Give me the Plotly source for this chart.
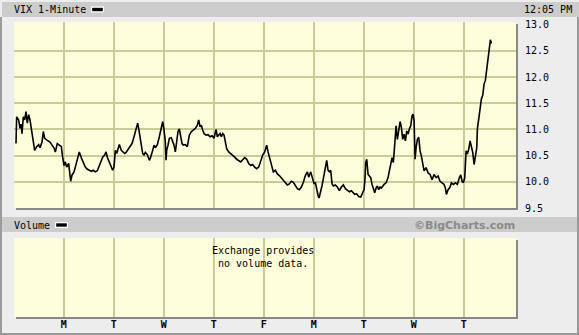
import plotly.graph_objects as go

# ---------------- data ----------------
# x = trading-session position (0 = Monday of the first full week)
day_pos = [
    -0.953, -0.94, -0.90, -0.873, -0.853, -0.833, -0.807, -0.78, -0.753, -0.727,
    -0.70, -0.673, -0.647, -0.62, -0.593, -0.58, -0.54, -0.50, -0.473, -0.433,
    -0.407, -0.38, -0.327, -0.273, -0.233, -0.193, -0.167, -0.127, -0.087, -0.047,
    -0.02, 0.007, 0.033, 0.06, 0.10, 0.127, 0.14, 0.167, 0.207, 0.233,
    0.273, 0.313, 0.353, 0.393, 0.433, 0.473, 0.513, 0.553, 0.593, 0.633,
    0.673, 0.713, 0.753, 0.78, 0.82, 0.847, 0.873, 0.913, 0.953, 0.98,
    1.007, 1.033, 1.06, 1.087, 1.113, 1.153, 1.193, 1.22, 1.247, 1.287,
    1.327, 1.367, 1.407, 1.433, 1.46, 1.48, 1.50, 1.527, 1.553, 1.58,
    1.607, 1.633, 1.673, 1.713, 1.74, 1.78, 1.807, 1.833, 1.873, 1.913,
    1.953, 1.98, 2.007, 2.033, 2.047, 2.06, 2.087, 2.113, 2.153, 2.18,
    2.207, 2.233, 2.26, 2.287, 2.313, 2.34, 2.367, 2.393, 2.433, 2.473,
    2.513, 2.553, 2.593, 2.633, 2.673, 2.70, 2.727, 2.753, 2.78, 2.807,
    2.847, 2.887, 2.927, 2.967, 3.007, 3.033, 3.047, 3.073, 3.10, 3.127,
    3.153, 3.18, 3.207, 3.233, 3.26, 3.30, 3.34, 3.38, 3.42, 3.46,
    3.50, 3.54, 3.58, 3.62, 3.66, 3.70, 3.74, 3.78, 3.82, 3.86,
    3.90, 3.94, 3.98, 4.02, 4.06, 4.087, 4.113, 4.14, 4.167, 4.193,
    4.233, 4.273, 4.313, 4.353, 4.393, 4.433, 4.473, 4.513, 4.553, 4.593,
    4.633, 4.673, 4.713, 4.753, 4.793, 4.833, 4.873, 4.90, 4.94, 4.98,
    5.007, 5.033, 5.06, 5.087, 5.107, 5.14, 5.167, 5.193, 5.22, 5.247,
    5.26, 5.287, 5.313, 5.34, 5.367, 5.393, 5.433, 5.473, 5.513, 5.553,
    5.593, 5.633, 5.673, 5.713, 5.753, 5.793, 5.82, 5.86, 5.90, 5.94,
    5.98, 6.007, 6.027, 6.04, 6.06, 6.087, 6.113, 6.14, 6.167, 6.193,
    6.22, 6.247, 6.273, 6.30, 6.327, 6.353, 6.38, 6.407, 6.447, 6.487,
    6.513, 6.54, 6.567, 6.593, 6.62, 6.647, 6.673, 6.70, 6.727, 6.753,
    6.78, 6.807, 6.833, 6.86, 6.887, 6.913, 6.94, 6.967, 6.987, 7.007,
    7.027, 7.047, 7.073, 7.10, 7.127, 7.153, 7.18, 7.207, 7.247, 7.287,
    7.327, 7.367, 7.407, 7.447, 7.487, 7.527, 7.567, 7.607, 7.633, 7.653,
    7.687, 7.727, 7.753, 7.793, 7.833, 7.873, 7.913, 7.94, 7.967, 7.993,
    8.02, 8.033, 8.047, 8.073, 8.10, 8.127, 8.153, 8.18, 8.207, 8.233,
    8.26, 8.273, 8.30, 8.327, 8.353, 8.38, 8.407, 8.433, 8.46, 8.487,
    8.513, 8.533, 8.553,
]
vix = [
    10.73, 11.24, 11.18, 11.02, 11.10, 10.92, 11.24, 11.18, 11.34, 11.12,
    11.28, 11.18, 11.02, 10.86, 10.76, 10.60, 10.67, 10.71, 10.65, 10.76,
    10.96, 10.83, 10.79, 10.76, 10.70, 10.65, 10.57, 10.73, 10.70, 10.67,
    10.47, 10.31, 10.38, 10.28, 10.35, 10.12, 10.01, 10.13, 10.19, 10.28,
    10.44, 10.57, 10.46, 10.35, 10.28, 10.24, 10.22, 10.20, 10.22, 10.19,
    10.21, 10.31, 10.38, 10.47, 10.51, 10.57, 10.47, 10.38, 10.26, 10.22,
    10.28, 10.60, 10.54, 10.63, 10.71, 10.60, 10.57, 10.54, 10.56, 10.62,
    10.67, 10.73, 10.86, 10.96, 11.02, 11.12, 11.02, 10.89, 10.70, 10.54,
    10.51, 10.56, 10.52, 10.41, 10.47, 10.60, 10.70, 10.65, 10.71, 10.86,
    11.02, 11.15, 10.99, 10.76, 10.41, 10.60, 10.70, 10.83, 10.84, 10.78,
    10.70, 10.57, 10.83, 10.96, 11.01, 10.83, 10.73, 10.70, 10.71, 10.67,
    10.89, 10.96, 10.99, 11.02, 11.08, 11.18, 11.05, 11.08, 10.99, 10.92,
    10.89, 10.90, 10.86, 10.88, 10.83, 10.96, 11.00, 10.86, 10.89, 10.92,
    10.86, 10.92, 10.89, 10.73, 10.63, 10.57, 10.54, 10.51, 10.47, 10.43,
    10.41, 10.38, 10.42, 10.46, 10.43, 10.35, 10.31, 10.33, 10.28, 10.25,
    10.28, 10.41, 10.51, 10.57, 10.70, 10.57, 10.44, 10.38, 10.28, 10.19,
    10.22, 10.15, 10.12, 10.07, 10.03, 9.98, 9.94, 9.96, 10.01, 9.99,
    9.92, 9.87, 9.85, 9.90, 9.99, 10.12, 10.19, 10.09, 10.19, 10.03,
    9.96, 9.99, 9.83, 9.74, 9.69, 9.80, 9.93, 10.06, 10.19, 10.31,
    10.41, 10.22, 10.19, 10.22, 9.96, 9.92, 9.94, 9.90, 9.83, 9.90,
    9.94, 9.87, 9.83, 9.81, 9.83, 9.79, 9.76, 9.77, 9.72, 9.71,
    9.79, 9.85, 10.08, 10.37, 10.43, 10.14, 10.11, 10.08, 9.95, 9.88,
    9.79, 9.88, 9.92, 9.85, 9.90, 9.88, 9.92, 9.95, 9.98, 10.08,
    10.21, 10.33, 10.46, 10.37, 10.72, 11.07, 10.81, 10.97, 11.15, 11.04,
    10.81, 10.91, 10.78, 10.97, 10.91, 11.01, 11.07, 11.26, 11.29, 11.17,
    10.43, 10.65, 10.81, 10.85, 10.59, 10.49, 10.30, 10.21, 10.27, 10.17,
    10.14, 10.04, 10.14, 10.08, 10.11, 10.01, 9.98, 9.95, 9.88, 9.76,
    9.85, 9.90, 9.98, 9.95, 9.98, 9.95, 10.08, 10.13, 10.01, 9.98,
    10.08, 10.37, 10.59, 10.53, 10.62, 10.78, 10.65, 10.56, 10.33, 10.46,
    10.65, 11.01, 11.20, 11.46, 11.58, 11.65, 11.87, 11.94, 12.13, 12.29,
    12.51, 12.71, 12.64,
]
day_ticks = [0, 1, 2, 3, 4, 5, 6, 7, 8]
day_labels = ["M", "T", "W", "T", "F", "M", "T", "W", "T"]
price_ticks = [9.5, 10.0, 10.5, 11.0, 11.5, 12.0, 12.5, 13.0]
price_grid = [10.0, 10.5, 11.0, 11.5, 12.0, 12.5]
title_text = "VIX 1-Minute"
time_text = "12:05 PM"
volume_title = "Volume"
credit_text = "©BigCharts.com"
no_volume_text = "Exchange provides<br>no volume data."

# ---------------- layout helpers (pixel -> paper) ----------------
W, H = 579, 335
L, R, T, B = 14, 516, 22, 317
def px(x):
    return (x - L) / (R - L)
def py(y):
    return (B - y) / (B - T)

MONO = "DejaVu Sans Mono"
BG = "#ededed"
PANEL = "#fdfddb"
GRID = "#cbcb96"
BAR = "#cccccc"

fig = go.Figure()
fig.add_trace(go.Scatter(x=day_pos, y=vix, mode="lines",
                         line=dict(color="#000000", width=1.6),
                         xaxis="x", yaxis="y", hoverinfo="skip", showlegend=False))
fig.add_trace(go.Scatter(x=[], y=[], xaxis="x2", yaxis="y2", showlegend=False))
fig.add_trace(go.Scatter(x=[], y=[], xaxis="x", yaxis="y3", showlegend=False))

xr = [-0.993, 9.045]
yr = [9.5, 13.05]
main_dom = [py(208), 1.0]
vol_dom = [0.0, py(238)]

shapes = []
def rect(x0, y0, x1, y1, color, layer="below"):
    shapes.append(dict(type="rect", xref="paper", yref="paper",
                       x0=px(x0), x1=px(x1), y0=py(y1), y1=py(y0),
                       fillcolor=color, line=dict(width=0), layer=layer))

# header bars
rect(2, 2, 579, 17, BAR)
rect(2, 217, 579, 232, BAR)
# frame lines
rect(0, 17, 2, 335, "#9a9a9a")
rect(0, 333, 579, 335, "#9a9a9a")
rect(577, 17, 579, 335, "#9a9a9a")
# panel shadows
rect(16, 208, 518, 210, "#888888")
rect(516, 24, 518, 210, "#888888")
rect(16, 317, 518, 319, "#888888")
rect(516, 240, 518, 319, "#888888")
# legend dashes
for (x0, y0, x1, y1) in [(91, 6.5, 104, 12.5), (55, 222, 68, 228)]:
    rect(x0, y0, x1, y1, "#ffffff", "above")
    rect(x0 + 1.2, y0 + 1.3, x1 - 1.2, y1 - 1.3, "#000000", "above")

ann = []
def text(x, y, s, xanchor="left", size=10, color="#000", family=MONO, align="left"):
    ann.append(dict(xref="paper", yref="paper", x=px(x), y=py(y), text=s,
                    showarrow=False, xanchor=xanchor, yanchor="middle",
                    align=align, borderpad=0,
                    font=dict(family=family, size=size, color=color)))

text(13, 9.5, title_text)
text(523, 9.5, time_text)
text(13, 225, volume_title)
text(516, 225, "<b>" + credit_text + "</b>", xanchor="right", size=11,
     color="#8a8a8a", family="DejaVu Sans")
text(263, 257, no_volume_text, xanchor="center", align="center")

fig.update_layout(
    width=W, height=H,
    margin=dict(l=L, r=W - R, t=T, b=H - B, autoexpand=False),
    paper_bgcolor=BG, plot_bgcolor=PANEL,
    showlegend=False,
    shapes=shapes, annotations=ann,
    xaxis=dict(domain=[0, 1], range=xr, anchor="y", tickvals=day_ticks,
               showticklabels=False, showgrid=True, gridcolor=GRID, gridwidth=2,
               zeroline=False, showline=False, ticks="", automargin=False),
    yaxis=dict(domain=main_dom, range=yr, side="right", anchor="x",
               tickvals=price_ticks, ticktext=[f"{v:.1f}" for v in price_ticks],
               showgrid=False, zeroline=False, showline=False, ticks="",
               ticklabelstandoff=8, automargin=False,
               tickfont=dict(family=MONO, size=10, color="#000")),
    yaxis3=dict(overlaying="y", range=yr, side="right", anchor="x",
                tickvals=price_grid, showticklabels=False, showgrid=True,
                gridcolor=GRID, gridwidth=2, zeroline=False, showline=False,
                automargin=False),
    xaxis2=dict(domain=[0, 1], range=xr, anchor="y2", tickvals=day_ticks,
                ticktext=day_labels, showgrid=True, gridcolor=GRID, gridwidth=2,
                zeroline=False, showline=False, ticks="", automargin=False,
                tickfont=dict(family=MONO, size=10, color="#000", weight="bold")),
    yaxis2=dict(domain=vol_dom, range=[0, 1], anchor="x2", showgrid=False,
                showticklabels=False, zeroline=False, showline=False,
                automargin=False),
)

fig.write_html("out.html", config={"displayModeBar": False})
